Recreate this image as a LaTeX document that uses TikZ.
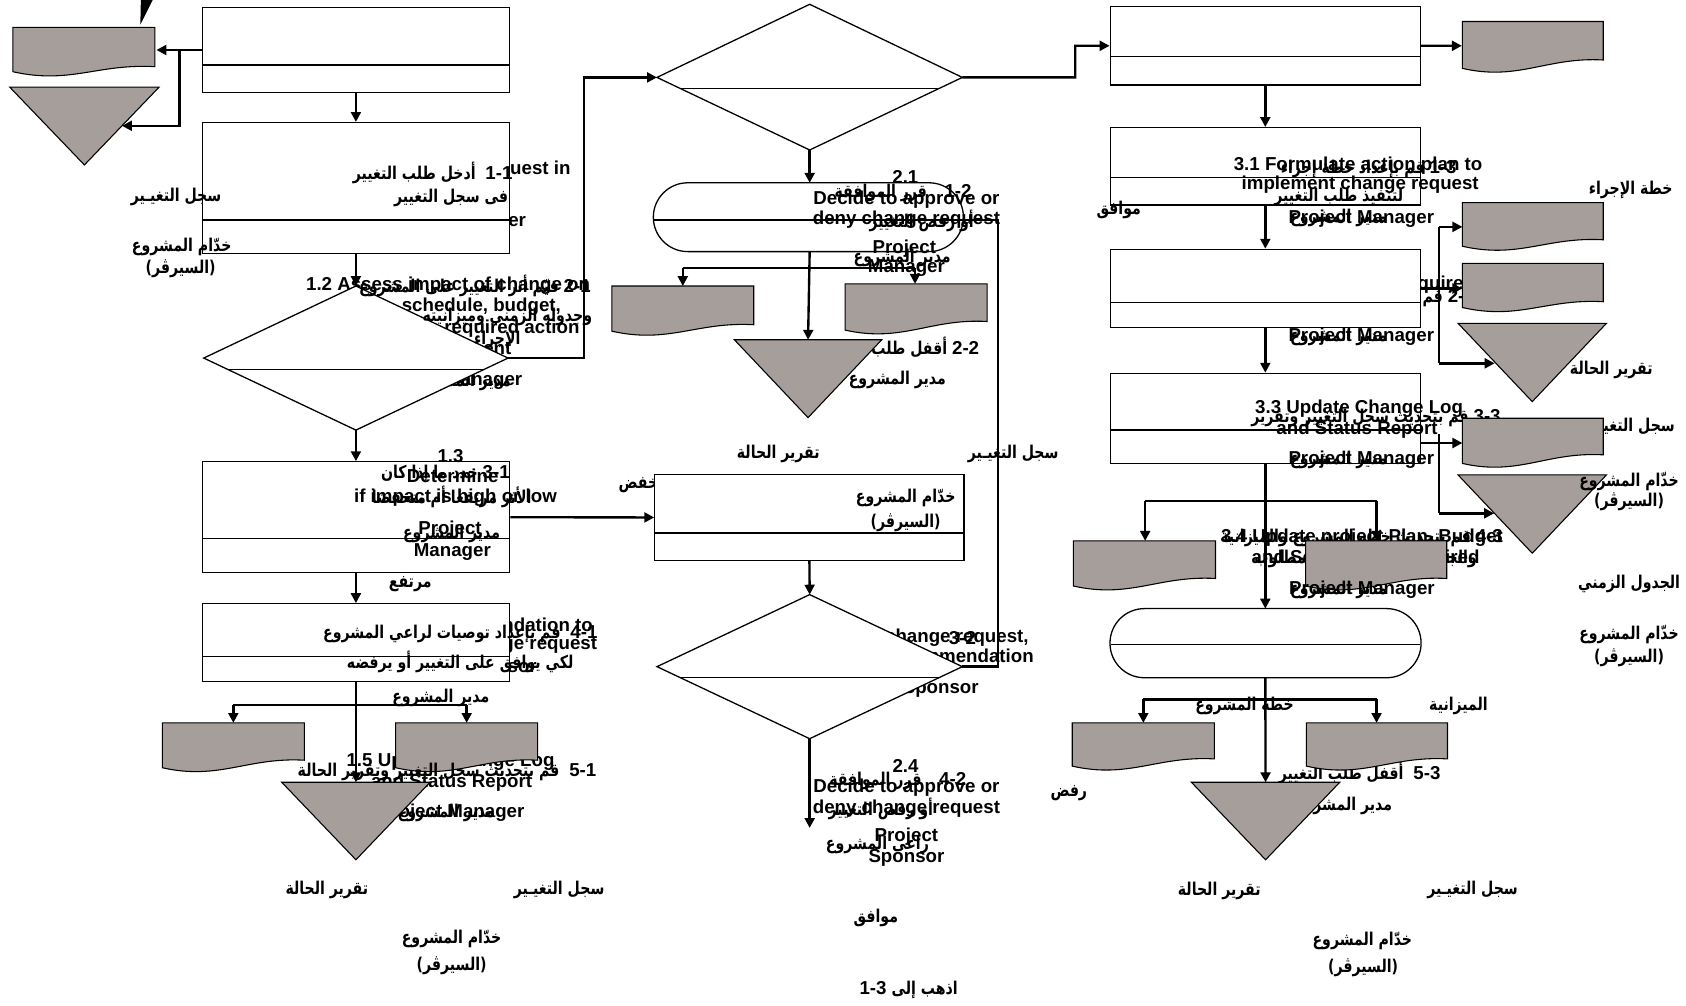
\documentclass[tikz,border=0pt]{standalone}
\usepackage{fontspec}
\setmainfont{Liberation Sans}
\newfontfamily\arabicfont[Script=Arabic,FakeStretch=0.8]{DejaVu Sans}
\TeXXeTstate=1
\usetikzlibrary{arrows.meta}
\definecolor{shapegray}{RGB}{166,158,154}
\pgfdeclarelayer{bg}\pgfdeclarelayer{mid}\pgfdeclarelayer{top}\pgfdeclarelayer{fg}
\pgfsetlayers{bg,main,mid,top,fg}
\newcounter{tn}
\newcommand\NUM[1]{\beginL{\normalfont\bfseries\fontsize{8.7}{9.5}\selectfont #1}\endL}
\def\entx[#1](#2)#3{\stepcounter{tn}\node[en,#1] (t\arabic{tn}) at (#2) {#3};}
\def\artx[#1](#2)#3{\stepcounter{tn}\node[ar,#1] (t\arabic{tn}) at (#2) {#3};}
\tikzset{
  en/.style={font=\fontsize{8.7}{9.5}\selectfont\bfseries, inner sep=0pt},
  ar/.style={font=\arabicfont\fontsize{8.2}{9}\selectfont\bfseries, inner sep=0pt},
  procbox/.style={draw, fill=white, line width=0.6pt, inner sep=0pt},
  procdraw/.style={draw, fill=white, line width=0.6pt},
  divline/.style={line width=0.55pt},
  grayshape/.style={draw, fill=shapegray, line width=0.5pt},
  conn/.style={line width=1.1pt},
  arr/.style={conn, -{Triangle[length=4.6pt,width=4.6pt]}},
}
\newcommand\procboxat[6]{%
  \node[procbox, minimum width={(#4-#2)*0.5pt}, minimum height={(#5-#3)*0.5pt}] (#1) at ({(#2+#4)/2},{(#3+#5)/2}) {};
  \draw[divline] (#2,#6) -- (#4,#6);
}
\newcommand\docshape[6]{%
  \path[grayshape] (#2,#3) -- (#4,#3) -- (#4,#6) .. controls ({#2+0.6*(#4-#2)},{#6-3}) and ({#2+0.4*(#4-#2)},{#5+12}) .. (#2,#5) -- cycle;
  \coordinate (#1) at ({(#2+#4)/2},{(#3+#5)/2});
}
\newcommand\trishape[5]{%
  \path[grayshape] (#2,#4) -- (#3,#4) -- ({(#2+#3)/2},#5) -- cycle;
  \coordinate (#1) at ({(#2+#3)/2},#4);
}
\begin{document}
\begin{tikzpicture}[x=0.5pt,y=-0.5pt]
\useasboundingbox (0,0) rectangle (1568,935);

% ---------------- hidden texts (under shapes)
\begin{pgfonlayer}{bg}
\fill[white] (0,0) rectangle (1568,935);
\entx[](417,157.5){1.1 Enter change request in}
\entx[](421.5,206){Project Manager}
\entx[](416.7,266){1.2 Assess impact of change on}
\entx[anchor=east](522,285.2){schedule, budget,}
\entx[anchor=east](539.4,305.3){required action}
\entx[anchor=east](476,324){ent}
\entx[](418,354){Project Manager}
\artx[](430,355){\beginR مدير المشروع\endR}
\entx[](432,581.2){1.4 Make recommendation to}
\entx[](432,600){approve/deny change request}
\entx[](432,621){Project Sponsor}
\entx[](843,593.5){2.3 Review change request,}
\entx[](843,612){impact and recommendation}
\entx[](843,640){Project Sponsor}
\artx[anchor=east](908,593.5){\NUM{3-2}}
\artx[anchor=east](626,451){\beginR منخفض\endR}
\entx[anchor=east](1372,265){required}
\artx[anchor=east](1372,277){\beginR\NUM{2-3} قم بتحديث\endR}
\end{pgfonlayer}

% ---------------- process shapes
\procboxat{A1}{188}{7}{474}{86}{60.5}
\procboxat{A2}{188}{114}{474}{236}{204.6}
\path[procdraw] (331,266) -- (472.5,333) -- (331,400) -- (189.5,333) -- cycle;
\draw[divline] (211.7,343.5) -- (450.3,343.5);
\coordinate (A3n) at (331,266); \coordinate (A3e) at (472.5,333); \coordinate (A3s) at (331,400);
\procboxat{A4}{188}{429.5}{474}{532.5}{501}
\procboxat{A5}{188}{561.5}{474}{634}{610.5}

\path[procdraw] (753,4) -- (895,72) -- (753,139.5) -- (611,72) -- cycle;
\draw[divline] (632.2,82.1) -- (873.8,82.1);
\coordinate (B1w) at (611,72); \coordinate (B1e) at (895,72); \coordinate (B1s) at (753,139.5);
\draw[procdraw, rounded corners=16pt] (607.6,170) rectangle (896,234);
\draw[divline] (608,204.6) -- (896,204.6);
\coordinate (B2n) at (753,170); \coordinate (B2s) at (753,234); \coordinate (B2e) at (896,204.6);
\procboxat{B4}{609}{441.5}{896.5}{521}{495.7}
\path[procdraw] (753,553) -- (895,620) -- (753,687) -- (611,620) -- cycle;
\draw[divline] (632.8,630.3) -- (873.2,630.3);
\coordinate (B5n) at (753,553); \coordinate (B5e) at (895,620); \coordinate (B5s) at (753,687);

\procboxat{C1}{1032.5}{6.2}{1321}{79}{52.7}
\procboxat{C2}{1032.5}{118.7}{1321}{190.6}{165.2}
\procboxat{C3}{1032.5}{231.9}{1321}{304.7}{281.5}
\procboxat{C4}{1032.5}{347.2}{1321}{430.9}{399.9}
\draw[procdraw, rounded corners=16pt] (1032.3,566) rectangle (1321.6,630.3);
\draw[divline] (1033,599.5) -- (1321,599.5);
\coordinate (C6n) at (1176.75,566); \coordinate (C6s) at (1176.75,630.3);

% ---------------- texts between boxes and documents
\begin{pgfonlayer}{mid}
\entx[](419,708){1.5 Update Change Log}
\entx[](420,727.5){and Status Report}
\entx[](420,756){Project Manager}
\artx[](415,756){\beginR مدير المشروع\endR}
\artx[anchor=east](911,324){\beginR\NUM{2-2} أقفل طلب التغيير\endR}
\artx[anchor=east](1396,389){\beginR\NUM{3-3} قم بتحديث سجل التغيير وتقرير\endR}
\entx[](1266.7,500.3){3.4 Update project Plan, Budget}
\entx[](1270,519.8){and Schedule as required}
\artx[anchor=east](1398,500){\beginR\NUM{4-3} قم بتحديث خطة المشروع والميزانية\endR}
\artx[](1270,520){\beginR والجدول الزمني حسب المطلوب\endR}
\artx[anchor=east](1558,397){\beginR سجل التغيـير\endR}
\artx[anchor=east](1340,719){\beginR\NUM{5-3}\ \ أقفل طلب التغيير\endR}
\artx[anchor=east](1295,749.4){\beginR مدير المشروع\endR}
\end{pgfonlayer}

% ---------------- documents, triangles, connectors
\begin{pgfonlayer}{top}
\fill (131,0) -- (142,0) -- (130.5,23) -- cycle;
\docshape{dL1}{12}{25.4}{144}{66.7}{62}
\trishape{tL1}{9}{148}{81}{153.4}
\docshape{dL2a}{151}{672.3}{283}{714}{707}
\docshape{dL2b}{368}{672.3}{500}{714}{707}
\trishape{tL2}{262}{400}{727.5}{799.6}
\docshape{dBa}{569}{266}{701}{308}{302}
\docshape{dBb}{786}{264}{918}{307}{299}
\trishape{tB3}{683}{820}{316}{388.4}
\docshape{dC1}{1360}{20}{1491}{63.6}{55.8}
\docshape{dC2}{1360}{188.5}{1491}{229}{223}
\docshape{dC3}{1360}{245}{1491}{286}{280.6}
\trishape{tC}{1356}{1494}{300.7}{373.5}
\docshape{dC4}{1360}{389}{1491}{431}{423}
\trishape{tC2}{1356}{1494}{441.7}{514.5}
\docshape{dC5a}{998.3}{503}{1130.4}{545}{538}
\docshape{dC5b}{1214.2}{503}{1345.5}{545}{538}
\docshape{dC7a}{997.2}{672.3}{1129.3}{712.5}{705.8}
\docshape{dC7b}{1215}{672.3}{1346.2}{712.5}{705.8}
\trishape{tC7}{1108}{1246}{727.5}{799.6}

% left column connectors
\coordinate (j1) at (167,46.5);
\coordinate (dL1e) at (145.5,46.5);
\coordinate (tL1e) at (113.5,117);
\draw[conn] (A1.west) -- (j1);
\draw[arr] (j1) -- (dL1e);
\draw[arr] (j1) |- (tL1e);
\draw[arr] (A1.south) -- (A2.north);
\draw[arr] (A2.south) -- (A3n);
\coordinate (k1) at (543,72);
\draw[arr] (A3e) -| (k1) -- (B1w);
\draw[arr] (A3s) -- (A4.north);
\draw[arr] (A4.east) -- (B4.west);
\draw[arr] (A4.south) -- (A5.north);
\draw[arr] (A5.south) -- (tL2);
\coordinate (b1l) at (217,655.5); \coordinate (b1r) at (434,655.5);
\draw[conn] (b1l) -- (b1r);
\draw[arr] (b1l) -- (217,672.3);
\draw[arr] (b1r) -- (434,672.3);

% middle connectors
\coordinate (k2) at (1000,42.6);
\draw[arr] (B1e) -| (k2) -- (C1.west);
\draw[arr] (B1s) -- (B2n);
\draw[arr] (B2s) -- (tB3);
\coordinate (b2l) at (635,249.5); \coordinate (b2r) at (851,249.5);
\draw[conn] (b2l) -- (b2r);
\draw[arr] (b2l) -- (635,266);
\draw[arr] (b2r) -- (851,264);
\draw[arr] (B4.south) -- (B5n);
\coordinate (k3) at (928.4,204.6);
\draw[conn] (B5e) -| (k3) -- (B2e);
\coordinate (goto) at (753,770);
\draw[arr] (B5s) -- (goto);

% right connectors
\coordinate (dC1w) at (1359.5,42.6);
\draw[arr] (C1.east) -- (dC1w);
\draw[arr] (C1.south) -- (C2.north);
\draw[arr] (C2.south) -- (C3.north);
\coordinate (dC3w) at (1360,268.3);
\draw[arr] (C3.east) -- (dC3w);
\coordinate (v1t) at (1338,211); \coordinate (v1b) at (1338,337.9);
\draw[conn] (v1t) -- (v1b);
\draw[arr] (v1t) -- (1360,211);
\draw[arr] (v1b) -- (1390,337.9);
\draw[arr] (C3.south) -- (C4.north);
\coordinate (c4e) at (1321,412);
\draw[arr] (c4e) -- (1360,412);
\coordinate (v2t) at (1338,404); \coordinate (v2b) at (1338,477.4);
\draw[conn] (v2t) -- (v2b);
\draw[arr] (v2b) -- (1389.5,477.4);
\draw[arr] (C4.south) -- (C6n);
\coordinate (b3l) at (1065,466.2); \coordinate (b3r) at (1280.2,466.2);
\draw[conn] (b3l) -- (b3r);
\draw[arr] (b3l) -- (1065,503);
\draw[arr] (b3r) -- (1280.2,503);
\draw[arr] (C6s) -- (tC7);
\coordinate (b4l) at (1063.3,650.5); \coordinate (b4r) at (1280.2,650.5);
\draw[conn] (b4l) -- (b4r);
\draw[arr] (b4l) -- (1063.3,672.3);
\draw[arr] (b4r) -- (1280.2,672.3);
\end{pgfonlayer}

% ---------------- visible texts on top
\begin{pgfonlayer}{fg}
% left
\artx[](163.7,183){\beginR سجل التغيـير\endR}
\artx[](169,229.4){\beginR خدّام المشروع\endR}
\artx[](168,249.5){\beginR(السيرڤر)\endR}
\artx[anchor=east](477,161){\beginR\NUM{1-1}\ \ أدخل طلب التغيير\endR}
\artx[anchor=east](473,184.5){\beginR فى سجل التغيير\endR}
\artx[anchor=east](549.8,266){\beginR\NUM{2-1} قيّم أثر التغيير على المشروع\endR}
\artx[anchor=east](551,294.5){\beginR وجدوله الزمني وميزانيته\endR}
\artx[](462.5,316){\beginR الإجراء\endR}
\entx[](419,424.2){1.3}
\entx[](421,442.7){Determine}
\entx[](423.6,462.8){if impact is high or low}
\entx[](418.5,493){Project}
\entx[](420.7,513){Manager}
\artx[anchor=east](474.5,441){\beginR\NUM{3-1} حدد ما إذا كان\endR}
\artx[](420,462){\beginR الأثر مرتفعا أم منخفضا\endR}
\artx[](420,497){\beginR مدير المشروع\endR}
\artx[](381.5,543.2){\beginR مرتفع\endR}
\artx[anchor=east](556,590){\beginR\NUM{4-1}\ \ قم بإعداد توصيات لراعي المشروع\endR}
\artx[](428,615.4){\beginR لكي يوافق على التغيير أو يرفضه\endR}
\artx[](410,649.4){\beginR مدير المشروع\endR}
\artx[anchor=east](555,717.6){\beginR\NUM{5-1}\ \ قم بتحديث سجل التغيير وتقرير الحالة\endR}
\artx[](304,828){\beginR تقرير الحالة\endR}
\artx[](520,828){\beginR سجل التغيـير\endR}
\artx[](420,873){\beginR خدّام المشروع\endR}
\artx[](420,898.4){\beginR(السيرڤر)\endR}
% middle
\entx[](842,164.3){2.1}
\entx[](843,185.4){Decide to approve or}
\entx[](843,204.6){deny change request}
\entx[](841,231){Project}
\entx[](843,249.5){Manager}
\artx[anchor=east](904,179.8){\beginR\NUM{1-2}\hspace{1em}قرر الموافقة\endR}
\artx[anchor=east](906,205){\beginR أو رفض التغيير\endR}
\artx[](839,240.2){\beginR مدير المشروع\endR}
\artx[](834.5,353.4){\beginR مدير المشروع\endR}
\artx[](723.8,422.6){\beginR تقرير الحالة\endR}
\artx[](942.3,422.6){\beginR سجل التغيـير\endR}
\artx[](842.3,462.8){\beginR خدّام المشروع\endR}
\artx[](842.3,486.3){\beginR(السيرڤر)\endR}
\entx[](842.2,712.5){2.4}
\entx[](843,732.6){Decide to approve or}
\entx[](843,751.7){deny change request}
\entx[](843,777.8){Project}
\entx[](843,798){Sponsor}
\artx[anchor=east](899,726){\beginR\NUM{4-2}\hspace{1em}قرر الموافقة\endR}
\artx[anchor=east](868,752.7){\beginR أو رفض التغيير\endR}
\artx[](816,786.2){\beginR راعي المشروع\endR}
\artx[](814.5,853.3){\beginR موافق\endR}
\artx[](845,920.2){\beginR اذهب إلى \NUM{1-3}\endR}
% right
\entx[](1263,154){3.1 Formulate action plan to}
\entx[](1265,172){implement change request}
\entx[](1266,203){Project Manager}
\artx[anchor=east](1355,157){\beginR\NUM{1-3} قم بإعداد خطة إجراء\endR}
\artx[](1245,183){\beginR لتنفيذ طلب التغيير\endR}
\artx[](1245,203){\beginR مدير المشروع\endR}
\artx[](1040.4,195.3){\beginR موافق\endR}
\entx[](1266,313){Project Manager}
\artx[](1245,313){\beginR مدير المشروع\endR}
\entx[](1264,379.7){3.3 Update Change Log}
\entx[](1262,400){and Status Report}
\entx[](1266,427.6){Project Manager}
\artx[](1245,427.6){\beginR مدير المشروع\endR}
\entx[](1266.6,548.2){Project Manager}
\artx[](1245,548.2){\beginR مدير المشروع\endR}
\artx[](1516.5,176.7){\beginR خطة الإجراء\endR}
\artx[](1498.5,344){\beginR تقرير الحالة\endR}
\artx[](1515,447.7){\beginR خدّام المشروع\endR}
\artx[](1515,467){\beginR(السيرڤر)\endR}
\artx[](1515,543){\beginR الجدول الزمني\endR}
\artx[](1515,590){\beginR خدّام المشروع\endR}
\artx[](1515,612){\beginR(السيرڤر)\endR}
\artx[](1157.4,657){\beginR خطة المشروع\endR}
\artx[](1356.4,657){\beginR الميزانية\endR}
\artx[](994,737.5){\beginR رفض\endR}
\artx[](1133.9,828.2){\beginR تقرير الحالة\endR}
\artx[](1369.5,828){\beginR سجل التغيـير\endR}
\artx[](1267,875){\beginR خدّام المشروع\endR}
\artx[](1267.7,900){\beginR(السيرڤر)\endR}
\end{pgfonlayer}
\end{tikzpicture}
\end{document}
